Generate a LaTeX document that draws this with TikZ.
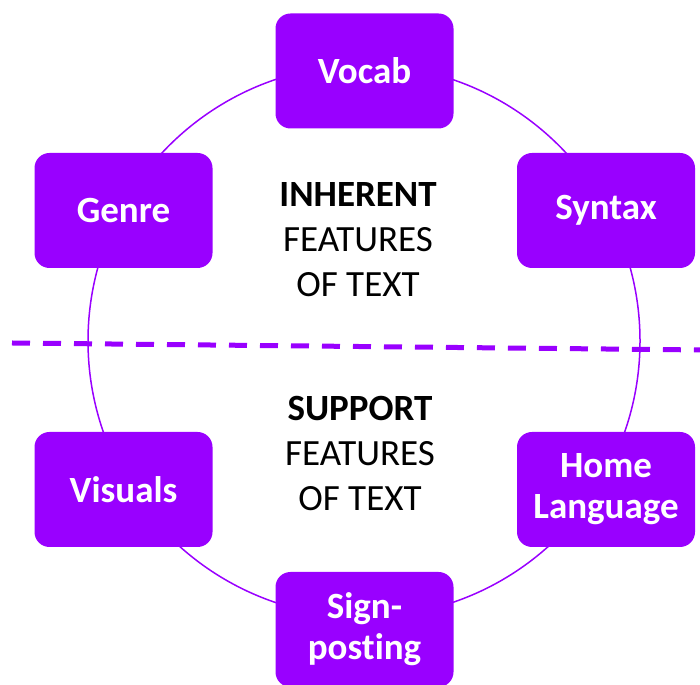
\documentclass[tikz,border=0pt]{standalone}
\usepackage{fontspec}
\setmainfont{Carlito}[Ligatures={NoCommon,NoRare}]
\usepackage{xcolor}
\usepackage{tikz}
\usetikzlibrary{positioning}
\definecolor{violet}{HTML}{9900FF}

\begin{document}
\begin{tikzpicture}[x=1pt, y=1pt,
  feature/.style={rectangle, rounded corners=15pt, fill=violet, text=white,
    minimum width=178pt, minimum height=115pt, align=center,
    font=\fontsize{37}{41}\selectfont\bfseries},
  caption/.style={align=center, font=\fontsize{37}{45}\selectfont}]

\useasboundingbox (0,0) rectangle (700,684);

\path[draw, violet, line width=1.5pt] (364,343) circle (276);

\coordinate (d1) at (12,341);
\coordinate (d2) at (704,334);
\path[draw, violet, line width=5pt, dash pattern=on 18pt off 13pt] (d1) -- (d2);

\node[feature] (vocab) at (364.5,613) {Vocab};
\node[feature] (genre) at (123.5,473.5) {Genre};
\node[feature] (syntax) at (606,473.5) {Syntax};
\node[feature] (visuals) at (123.5,194.5) {Visuals};
\node[feature] (home) at (606,194.5) {Home\\Language};
\node[feature] (sign) at (364.5,54.5) {Sign-\\posting};

\node[caption] (inherent) at (358,444) {\textbf{INHERENT}\\FEATURES\\OF TEXT};
\node[caption] (support) at (360,231) {\textbf{SUPPORT}\\FEATURES\\OF TEXT};

\end{tikzpicture}
\end{document}
